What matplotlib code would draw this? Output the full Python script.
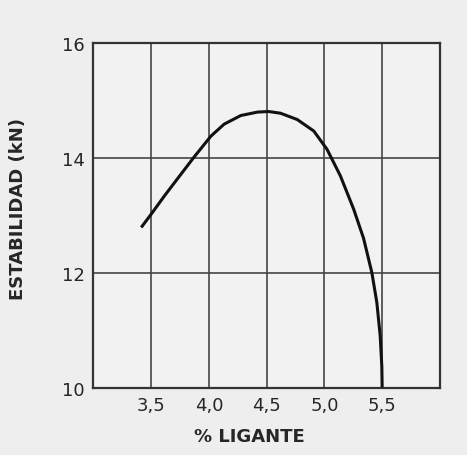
import numpy as np
import matplotlib.pyplot as plt

plt.rcParams['font.family'] = ['DejaVu Sans']

# datos
ligante = [3.414, 3.5, 3.615, 3.759, 3.873, 4.017, 4.132, 4.276, 4.42, 4.517,
           4.62, 4.765, 4.908, 5.023, 5.138, 5.253, 5.339, 5.411, 5.454, 5.483,
           5.497, 5.5]
estabilidad = [12.79, 13.02, 13.34, 13.72, 14.02, 14.38, 14.59, 14.74, 14.80, 14.81,
               14.78, 14.67, 14.47, 14.15, 13.69, 13.11, 12.60, 12.0, 11.48, 10.90,
               10.37, 10.0]
xticks = [3.5, 4.0, 4.5, 5.0, 5.5]
xgrid = [3.0, 3.5, 4.0, 4.5, 5.0, 5.5, 6.0]
yticks = [10, 12, 14, 16]

bg = '#eeeeee'
ink = '#262626'

fig = plt.figure(figsize=(4.67, 4.56), dpi=100, facecolor=bg)
ax = fig.add_axes([0.2, 0.148, 0.742, 0.755], facecolor='#f2f2f2')

for xv in xgrid:
    ax.axvline(xv, color='#444444', lw=1.2, zorder=1)
for yv in yticks:
    ax.axhline(yv, color='#444444', lw=1.2, zorder=1)

ax.plot(ligante, estabilidad, color='#111111', lw=2.2, zorder=3,
        solid_capstyle='butt', solid_joinstyle='round')

ax.set_xlim(3.0, 6.0)
ax.set_ylim(10, 16)
ax.set_xticks(xticks)
ax.set_xticklabels([f'{v:.1f}'.replace('.', ',') for v in xticks])
ax.set_yticks(yticks)
ax.tick_params(length=0, labelsize=13, colors=ink, pad=6)
for s in ax.spines.values():
    s.set_color('#333333')
    s.set_linewidth(1.6)

ax.set_xlabel('% LIGANTE', fontsize=13, color=ink, fontweight='bold')
ax.xaxis.set_label_coords(0.449, -0.115)
ax.set_ylabel('ESTABILIDAD (kN)', fontsize=13, color=ink, fontweight='bold')
ax.yaxis.set_label_coords(-0.191, 0.521)

fig.savefig('out.png', dpi=100, facecolor=bg)
